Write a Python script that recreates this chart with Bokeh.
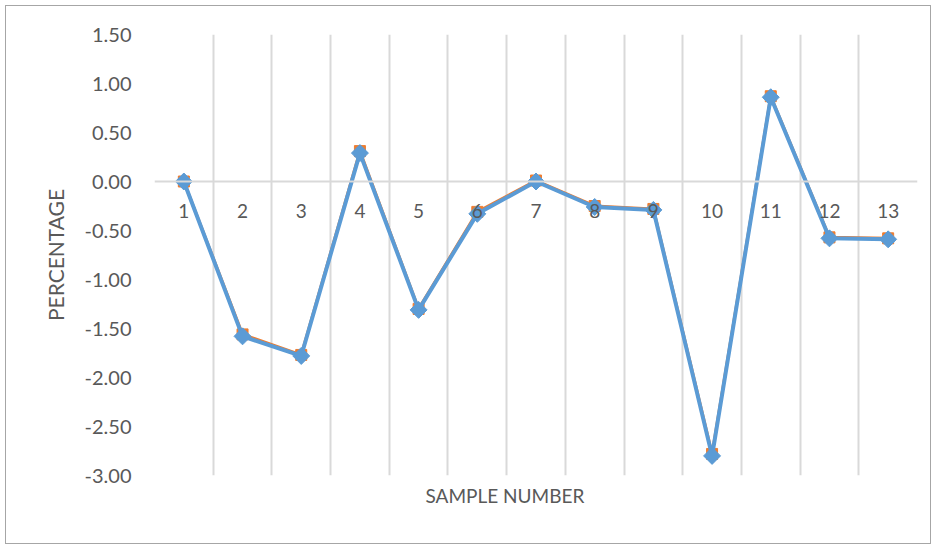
from bokeh.plotting import figure
from bokeh.models import FixedTicker, Span, NumeralTickFormatter, Range1d, ColumnDataSource, Title
from bokeh.core.properties import value
from bokeh.embed import file_html
from bokeh.resources import INLINE

samples = list(range(1, 14))
sample_labels = [str(s) for s in samples]
series_orange = [0.00, -1.56, -1.77, 0.31, -1.30, -0.31, 0.01, -0.25, -0.28, -2.78, 0.87, -0.57, -0.58]
series_blue = [0.00, -1.58, -1.78, 0.29, -1.31, -0.33, 0.00, -0.26, -0.29, -2.80, 0.86, -0.58, -0.59]
y_ticks = [-3.0, -2.5, -2.0, -1.5, -1.0, -0.5, 0.0, 0.5, 1.0, 1.5]

FONT = "Lato"
TXT = "#595959"

p = figure(width=926, height=539, output_backend="svg", toolbar_location=None,
           x_range=Range1d(0.5, 13.5), y_range=Range1d(-3.0, 1.5),
           min_border_left=148, min_border_top=28, min_border_right=15, min_border_bottom=70)
p.styles = {"border": "1px solid #a6a6a6", "margin-left": "5px", "margin-top": "5px"}
p.outline_line_color = None
p.background_fill_color = "white"

# grid
p.xgrid.ticker = FixedTicker(ticks=[i + 0.5 for i in range(0, 14)])
p.xgrid.grid_line_color = "#d9d9d9"
p.xgrid.grid_line_width = 2
p.ygrid.grid_line_color = None
p.add_layout(Span(location=0, dimension="width", line_color="#d9d9d9", line_width=2))

# y axis
p.yaxis.ticker = FixedTicker(ticks=y_ticks)
p.yaxis.formatter = NumeralTickFormatter(format="0.00")
p.yaxis.axis_line_color = None
p.yaxis.major_tick_line_color = None
p.yaxis.minor_tick_line_color = None
p.yaxis.major_label_standoff = 17
p.yaxis.major_label_text_font = FONT
p.yaxis.major_label_text_font_size = "20px"
p.yaxis.major_label_text_color = TXT
p.yaxis.axis_label = "PERCENTAGE"
p.yaxis.axis_label_text_font = FONT
p.yaxis.axis_label_text_font_size = "21px"
p.yaxis.axis_label_text_font_style = "normal"
p.yaxis.axis_label_text_color = TXT
p.yaxis.axis_label_standoff = 14

# x axis hidden; title drawn below, left-anchored with offset
p.xaxis.visible = False
p.add_layout(Title(text="SAMPLE NUMBER", align="left", offset=271, standoff=12,
                   text_font=FONT, text_font_size="19px", text_font_style="normal",
                   text_color=TXT), "below")

src = ColumnDataSource(dict(x=samples, o=series_orange, b=series_blue,
                            lab=sample_labels, zero=[0.0] * len(samples)))

p.line("x", "o", source=src, line_color="#ED7D31", line_width=3)
p.scatter("x", "o", source=src, marker="square", size=11, fill_color="#ED7D31", line_color="#ED7D31")
p.line("x", "b", source=src, line_color="#5B9BD5", line_width=4)
p.scatter("x", "b", source=src, marker="square", angle=0.785398, size=12, fill_color="#5B9BD5", line_color="#5B9BD5")

p.text("x", "zero", text="lab", source=src, text_font=value(FONT), text_font_size="19px",
       text_color=TXT, text_align="center", text_baseline="middle", y_offset=29)

open("out.html", "w").write(file_html(p, INLINE))
